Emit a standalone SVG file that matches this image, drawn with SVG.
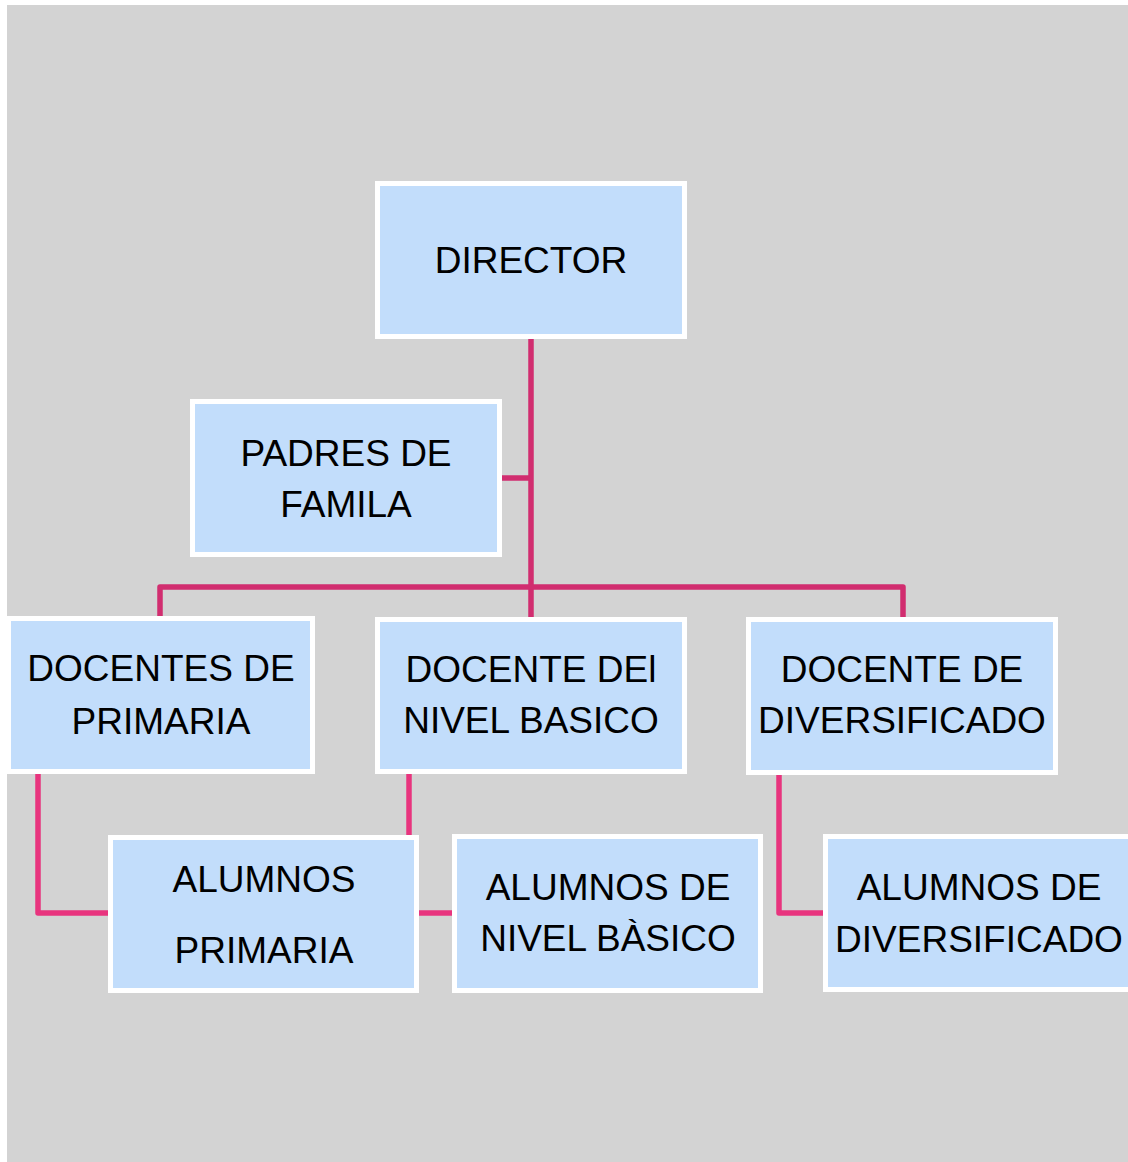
<svg xmlns="http://www.w3.org/2000/svg" width="1128" height="1162" viewBox="0 0 1128 1162">
<style>
.box{fill:#C2DDFB;stroke:#FFFFFF;stroke-width:5}
.t{font-family:"Liberation Sans",Arial,sans-serif;font-size:37px;fill:#000;text-anchor:middle}
.c1{fill:none;stroke:#D12D6F;stroke-width:5.5;stroke-linejoin:round}
.c2{fill:none;stroke:#E8347E;stroke-width:5.5;stroke-linejoin:round}
</style>
<rect x="0" y="0" width="1128" height="1162" fill="#FFFFFF"/>
<rect x="7" y="5" width="1121" height="1157" fill="#D3D3D3"/>
<g id="connectors">
<path class="c1" d="M531,339 V617"/>
<path class="c1" d="M501,478 H531"/>
<path class="c1" d="M160,617 V587 H903 V617"/>
<path class="c2" d="M38,774 V913 H108"/>
<path class="c2" d="M409,774 V835"/>
<path class="c2" d="M419,913 H452"/>
<path class="c2" d="M779,775 V913 H823"/>
</g>
<g id="director">
<rect class="box" x="377.5" y="183.5" width="307" height="153"/>
<text class="t" x="531" y="273">DIRECTOR</text>
</g>
<g id="padres">
<rect class="box" x="192.5" y="401.5" width="307" height="153"/>
<text class="t" x="346" y="466">PADRES DE</text>
<text class="t" x="346" y="517">FAMILA</text>
</g>
<g id="docentes-primaria">
<rect class="box" x="8.5" y="618.5" width="304" height="153"/>
<text class="t" x="161" y="681">DOCENTES DE</text>
<text class="t" x="161" y="734">PRIMARIA</text>
</g>
<g id="docente-basico">
<rect class="box" x="377.5" y="619.5" width="307" height="152"/>
<text class="t" x="531" y="682">DOCENTE DEl</text>
<text class="t" x="531" y="733">NIVEL BASICO</text>
</g>
<g id="docente-diversificado">
<rect class="box" x="748.5" y="619.5" width="307" height="153"/>
<text class="t" x="902" y="682">DOCENTE DE</text>
<text class="t" x="902" y="733">DIVERSIFICADO</text>
</g>
<g id="alumnos-primaria">
<rect class="box" x="110.5" y="837.5" width="306" height="153"/>
<text class="t" x="264" y="892">ALUMNOS</text>
<text class="t" x="264" y="963">PRIMARIA</text>
</g>
<g id="alumnos-basico">
<rect class="box" x="454.5" y="836.5" width="306" height="154"/>
<text class="t" x="608" y="900">ALUMNOS DE</text>
<text class="t" x="608" y="951">NIVEL BÀSICO</text>
</g>
<g id="alumnos-diversificado">
<rect class="box" x="825.5" y="836.5" width="307" height="153"/>
<text class="t" x="979" y="900">ALUMNOS DE</text>
<text class="t" x="979" y="952">DIVERSIFICADO</text>
</g>
</svg>
